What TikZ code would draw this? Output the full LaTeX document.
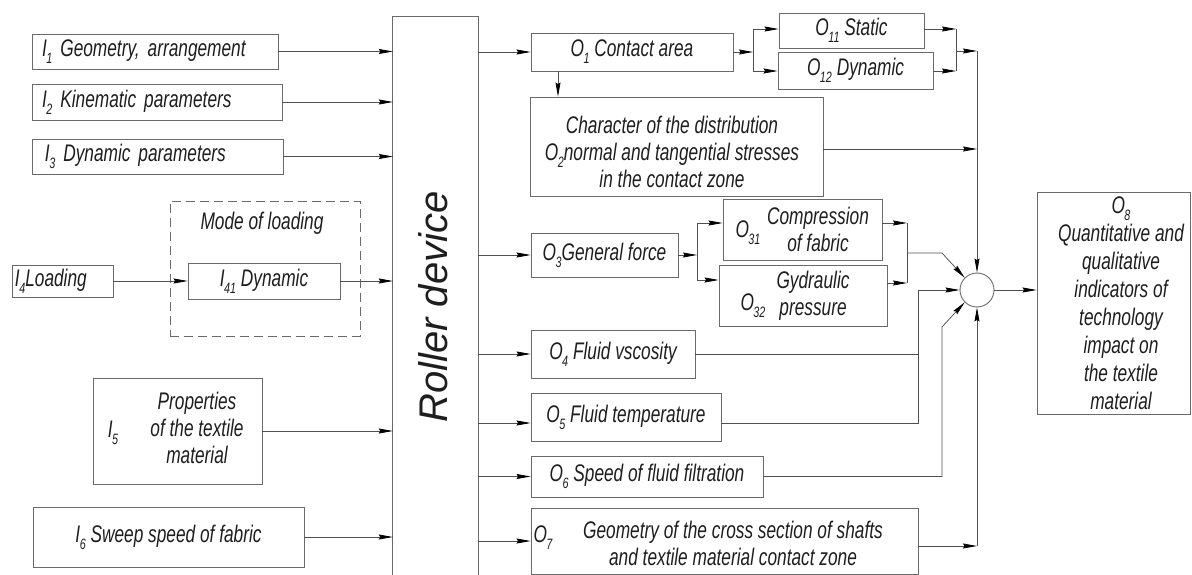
\documentclass[tikz,border=0pt]{standalone}
\usepackage{fontspec}
\setmainfont{Liberation Sans}[FakeStretch=0.72]
\newfontfamily\rollerfont{Liberation Sans}
\usetikzlibrary{arrows.meta,calc}
\definecolor{ln}{HTML}{6A6A6A}
\definecolor{cn}{HTML}{505050}
\definecolor{tx}{HTML}{1E1E1E}
\newcommand\lbl[2]{#1\kern-0.5pt\raisebox{-0.55ex}{\fontsize{15}{15}\selectfont #2}}
\begin{document}
\begin{tikzpicture}[x=1pt,y=-1pt,
  every node/.style={font=\fontsize{24}{27}\selectfont\itshape, text=tx},
  box/.style={draw=ln, line width=0.9pt, rectangle, inner sep=0pt},
  con/.style={draw=cn, line width=0.75pt},
  arr/.style={con, -{Stealth[length=14pt,width=5pt,inset=1.5pt,color=black]}},
  lab/.style={inner sep=0pt, align=center}
]
\useasboundingbox (0,0) rectangle (1192,575);

% inputs
\node[box, minimum width=246pt, minimum height=35pt, text width=226pt, align=left] (I1) at (155,51.5) {\lbl{I}{1} Geometry, arrangement};
\node[box, minimum width=250pt, minimum height=36pt, text width=230pt, align=left] (I2) at (157,102) {\lbl{I}{2} Kinematic parameters};
\node[box, minimum width=251pt, minimum height=35pt, text width=225pt, align=left] (I3) at (157.5,156.5) {\lbl{I}{3} Dynamic parameters};
\node[box, minimum width=101pt, minimum height=32pt, text width=95pt, align=left] (I4) at (62.5,281) {\lbl{I}{4}Loading};
\node[draw=ln, line width=0.9pt, dash pattern=on 9pt off 5pt, minimum width=190pt, minimum height=135pt, inner sep=0pt] (mode) at (265,268.5) {};
\node[lab] (modet) at (262,223) {Mode of loading};
\node[box, minimum width=152pt, minimum height=36pt] (I41) at (264,281) {\lbl{I}{41} Dynamic};
\node[box, minimum width=169pt, minimum height=106pt] (I5) at (177.5,431) {};
\node[lab] (I5l) at (113,433) {\lbl{I}{5}};
\node[lab] (I5t) at (197,428) {Properties\\of the textile\\material};
\node[box, minimum width=271pt, minimum height=60pt] (I6) at (168.5,537) {\lbl{I}{6} Sweep speed of fabric};

% roller device
\node[inner sep=0pt, minimum width=85pt, minimum height=558pt] (roller) at (435.5,296) {};
\draw[draw=ln, line width=0.9pt] (roller.south west) -- (roller.north west) -- (roller.north east) -- (roller.south east);
\node[rotate=90, inner sep=0pt, font={\rollerfont\fontsize{40}{44}\selectfont\itshape}] (rollert) at (433,307) {Roller device};

% outputs
\node[box, minimum width=202pt, minimum height=38pt] (O1) at (632,52) {\lbl{O}{1} Contact area};
\node[box, minimum width=145pt, minimum height=35pt] (O11) at (851.5,30.5) {\lbl{O}{11} Static};
\node[box, minimum width=155pt, minimum height=37pt] (O12) at (855.5,70.5) {\lbl{O}{12} Dynamic};
\node[box, minimum width=293pt, minimum height=99pt] (O2) at (676.5,146.5) {};
\node[lab] (O2t) at (672,151.5) {Character of the distribution\\\lbl{O}{2}normal and tangential stresses\\in the contact zone};
\node[box, minimum width=147pt, minimum height=44pt] (O3) at (604.5,255) {\lbl{O}{3}General force};
\node[box, minimum width=159pt, minimum height=61pt] (O31) at (802.5,229.5) {};
\node[lab] (O31l) at (748,233) {\lbl{O}{31}};
\node[lab] (O31t) at (818,229) {Compression\\of fabric};
\node[box, minimum width=168pt, minimum height=61pt] (O32) at (803,295.5) {};
\node[lab] (O32l) at (753,306) {\lbl{O}{32}};
\node[lab] (O32t) at (813,296) {Gydraulic\\pressure};
\node[box, minimum width=164pt, minimum height=48pt] (O4) at (613,354) {\lbl{O}{4} Fluid vscosity};
\node[box, minimum width=190pt, minimum height=48pt] (O5) at (626,417) {\lbl{O}{5} Fluid temperature};
\node[box, minimum width=232pt, minimum height=41pt] (O6) at (647,476.5) {\lbl{O}{6} Speed of fluid filtration};
\node[box, minimum width=387pt, minimum height=66pt] (O7) at (724.5,541) {};
\node[lab] (O7l) at (543,538) {\lbl{O}{7}};
\node[lab] (O7t) at (733,543) {Geometry of the cross section of shafts\\and textile material contact zone};
\node[circle, draw=ln, line width=0.9pt, minimum size=34pt, inner sep=0pt] (circ) at (977,290) {};
\node[box, minimum width=153pt, minimum height=222pt] (O8) at (1113.5,303) {};
\node[lab, font={\fontsize{24}{28}\selectfont\itshape}] (O8t) at (1121,303) {\lbl{O}{8}\\Quantitative and\\qualitative\\indicators of\\technology\\impact on\\the textile\\material};

% inputs to roller
\draw[arr] (I1.east) -- (roller.west |- I1.east);
\draw[arr] (I2.east) -- (roller.west |- I2.east);
\draw[arr] (I3.east) -- (roller.west |- I3.east);
\draw[arr] (I4.east) -- (I41.west);
\draw[arr] (I41.east) -- (roller.west |- I41.east);
\draw[arr] (I5.east) -- (roller.west |- I5.east);
\draw[arr] (I6.east) -- (roller.west |- I6.east);

% roller to outputs
\coordinate (v5) at (918,423);
\draw[arr] (roller.east |- O1.west) -- (O1.west);
\draw[arr] (roller.east |- O3.west) -- (O3.west);
\draw[arr] (roller.east |- O4.west) -- (O4.west);
\draw[arr] (roller.east |- v5) -- (O5.west |- v5);
\draw[arr] (roller.east |- O6.west) -- (O6.west);
\draw[arr] (roller.east |- O7.west) -- (O7.west);

% O1 branch
\coordinate (d1) at (558,71);
\draw[arr] (O1.south west -| d1) -- (O2.north west -| d1);
\coordinate (s1) at (753,52);
\coordinate (s1a) at (753,29);
\coordinate (s1b) at (753,71);
\draw[arr] (O1.east) -- (s1);
\draw[con] (s1a) -- (s1b);
\draw[arr] (s1a) -- (O11.west |- s1a);
\draw[arr] (s1b) -- (O12.west |- s1b);
\coordinate (j1a) at (956,29);
\coordinate (j1b) at (956,71);
\coordinate (j1) at (956,51);
\coordinate (t1) at (977,51);
\draw[arr] (O11.east |- j1a) -- (j1a);
\draw[arr] (O12.east |- j1b) -- (j1b);
\draw[con] (j1a) -- (j1b);
\draw[arr] (j1) -- (t1);
\draw[arr] (t1) -- (circ.north);
\coordinate (t2) at (977,149);
\draw[arr] (O2.east |- t2) -- (t2);

% O3 branch
\coordinate (s3) at (697,255);
\coordinate (s3a) at (697,223);
\coordinate (s3b) at (697,280);
\draw[arr] (O3.east) -- (s3);
\draw[con] (s3a) -- (s3b);
\draw[arr] (s3a) -- (O31.west |- s3a);
\draw[arr] (s3b) -- (O32.west |- s3b);
\coordinate (j3a) at (907,223);
\coordinate (j3b) at (907,283);
\coordinate (j3) at (907,253);
\coordinate (k3) at (942,253);
\draw[arr] (O31.east |- j3a) -- (j3a);
\draw[arr] (O32.east |- j3b) -- (j3b);
\draw[con] (j3a) -- (j3b);
\draw[arr] (j3) -- (k3) -- (circ.135);

% O4 - O7
\coordinate (v4) at (918,290);
\draw[arr] (O4.east) -| (v4) -- (circ.west);
\draw[con] (O5.east |- v5) -- (v5) -- (v5 |- O4.east);
\coordinate (k6) at (942,327);
\draw[arr] (O6.east) -| (k6) -- (circ.225);
\coordinate (v7) at (977,546);
\draw[arr] (O7.east |- v7) -- (v7);
\draw[arr] (v7) -- (circ.south);

% to O8
\draw[arr] (circ.east) -- (O8.west |- circ.east);
\end{tikzpicture}
\end{document}
